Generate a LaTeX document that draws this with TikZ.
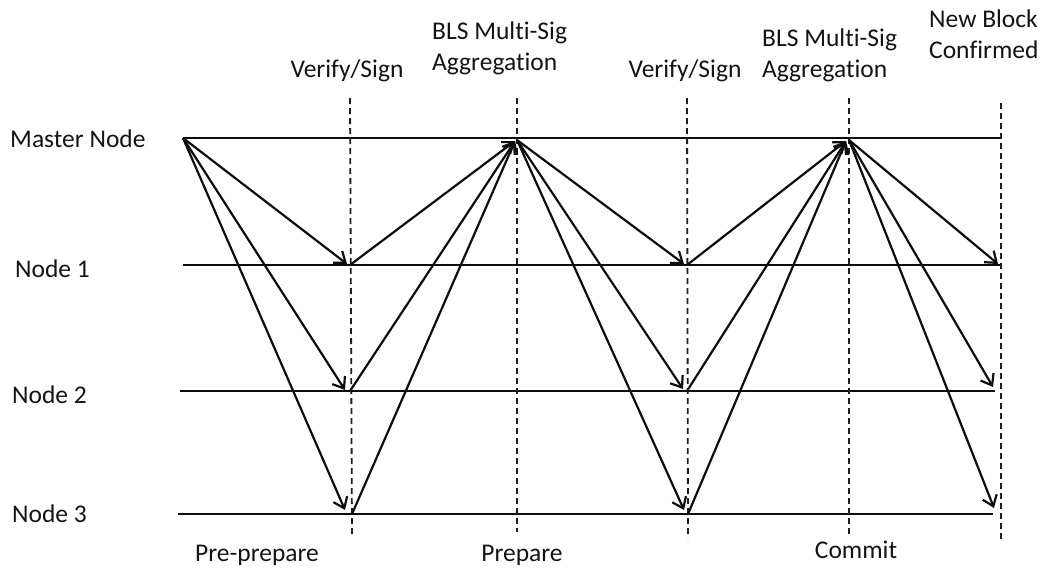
\documentclass[tikz,border=0pt]{standalone}
\usepackage{fontspec}
\setmainfont{Carlito}[Ligatures={NoCommon,NoContextual}]
\usetikzlibrary{arrows.meta}
\begin{document}
\begin{tikzpicture}[x=1pt,y=-1pt,
  lane/.style={line width=2.2pt, draw=black!95},
  phase/.style={line width=1.8pt, draw=black!88, dash pattern=on 6pt off 4pt},
  msg/.style={line width=2.2pt, draw=black!95,
    -{Straight Barb[length=10pt,width=15pt,line width=2.2pt]}},
  lbl/.style={font=\fontsize{25.5}{31}\selectfont, inner sep=0pt, text=black!92},
  lblw/.style={lbl, anchor=base west},
  lblc/.style={lbl, anchor=base}]
\useasboundingbox (0,0) rectangle (1048,568);

% lane end points
\coordinate (MS) at (183,138); \coordinate (ME) at (1001,138);
\coordinate (AS) at (183,265); \coordinate (AE) at (1000,265);
\coordinate (BS) at (180,391); \coordinate (BE) at (995,391);
\coordinate (CS) at (178,514); \coordinate (CE) at (993,514);

% phase boundaries (dashed)
\coordinate (P1t) at (350,98);  \coordinate (P1b) at (352,537);
\coordinate (P2t) at (517,98);  \coordinate (P2b) at (517,532);
\coordinate (P3t) at (687,98);  \coordinate (P3b) at (688,538);
\coordinate (P4t) at (849,98);  \coordinate (P4b) at (849,535);
\coordinate (P5t) at (1001,103); \coordinate (P5b) at (1001,540);

% message end points
\coordinate (A1) at (350,265); \coordinate (B1) at (350,391); \coordinate (C1) at (352,514);
\coordinate (a1) at (347,264); \coordinate (b1) at (345,390); \coordinate (c1) at (345,510);
\coordinate (M2) at (517,140); \coordinate (m2) at (515,141);
\coordinate (A3) at (687,265); \coordinate (B3) at (687,391); \coordinate (C3) at (688,514);
\coordinate (a3) at (684,264); \coordinate (b3) at (683,389); \coordinate (c3) at (684,510);
\coordinate (M4) at (849,140); \coordinate (m4) at (846,141);
\coordinate (a5) at (998,264); \coordinate (b5) at (993,387); \coordinate (c5) at (994,508);

% lanes
\draw[lane] (MS) -- (ME);
\draw[lane] (AS) -- (AE);
\draw[lane] (BS) -- (BE);
\draw[lane] (CS) -- (CE);

% phases
\foreach \p in {1,...,5} \draw[phase] (P\p t) -- (P\p b);

% pre-prepare
\draw[msg] (MS) -- (a1);
\draw[msg] (MS) -- (b1);
\draw[msg] (MS) -- (c1);
% prepare votes
\draw[msg] (A1) -- (m2);
\draw[msg] (B1) -- (m2);
\draw[msg] (C1) -- (m2);
% prepare broadcast
\draw[msg] (M2) -- (a3);
\draw[msg] (M2) -- (b3);
\draw[msg] (M2) -- (c3);
% commit votes
\draw[msg] (A3) -- (m4);
\draw[msg] (B3) -- (m4);
\draw[msg] (C3) -- (m4);
% commit broadcast
\draw[msg] (M4) -- (a5);
\draw[msg] (M4) -- (b5);
\draw[msg] (M4) -- (c5);

% lane labels
\node[lblw] (lm) at (10,147) {Master Node};
\node[lblw] (l1) at (15,277) {Node 1};
\node[lblw] (l2) at (12,403) {Node 2};
\node[lblw] (l3) at (12,522) {Node 3};

% step labels (base anchor sits on the last line)
\node[lblc] (t1) at (347,77) {Verify/Sign};
\node[lblw, align=left] (t2) at (432,70) {BLS Multi-Sig\\Aggregation};
\node[lblc] (t3) at (685,77) {Verify/Sign};
\node[lblw, align=left] (t4) at (762,77) {BLS Multi-Sig\\Aggregation};
\node[lblw, align=left] (t5) at (929,58) {New Block\\Confirmed};

% phase names
\node[lblc] (f1) at (257,561) {Pre-prepare};
\node[lblc] (f2) at (522,561) {Prepare};
\node[lblc] (f3) at (856,558) {Commit};
\end{tikzpicture}
\end{document}
